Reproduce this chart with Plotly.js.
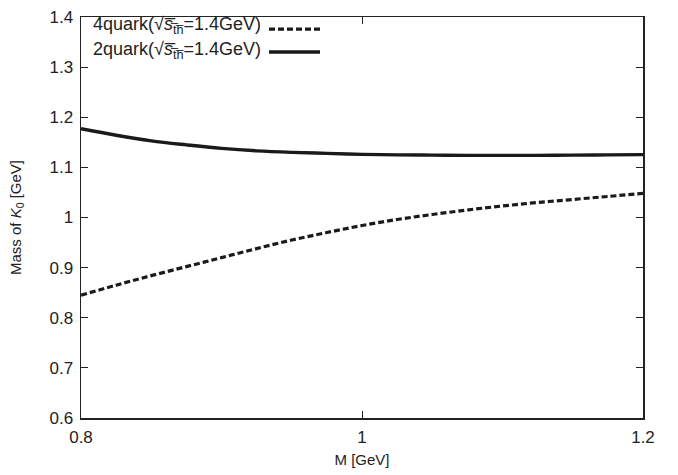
<!DOCTYPE html>
<html>
<head>
<meta charset="utf-8">
<script src="https://cdn.plot.ly/plotly-3.0.1.min.js"></script>
<style>html,body{margin:0;padding:0;background:#fff;}#chart{width:678px;height:475px;}</style>
</head>
<body>
<div id="chart"></div>
<script>
// Data
var massM = [0.8, 0.825, 0.85, 0.875, 0.9, 0.925, 0.95, 0.975, 1.0, 1.025, 1.05, 1.075, 1.1, 1.125, 1.15, 1.175, 1.2];
var fourQuark = [0.845, 0.865, 0.884, 0.902, 0.920, 0.938, 0.955, 0.970, 0.984, 0.996, 1.006, 1.015, 1.023, 1.030, 1.036, 1.042, 1.048];
var twoQuark = [1.177, 1.164, 1.153, 1.145, 1.138, 1.133, 1.130, 1.128, 1.126, 1.125, 1.1245, 1.124, 1.124, 1.124, 1.1245, 1.125, 1.1255];
var legendLabels = ["4quark(√<i>s̅</i><sub>t̅h̅</sub>=1.4GeV)", "2quark(√<i>s̅</i><sub>t̅h̅</sub>=1.4GeV)"];
var xTicks = [0.8, 1, 1.2];
var xTickText = ["0.8", "1", "1.2"];
var yTicks = [0.6, 0.7, 0.8, 0.9, 1.0, 1.1, 1.2, 1.3, 1.4];
var yTickText = ["0.6", "0.7", "0.8", "0.9", "1", "1.1", "1.2", "1.3", "1.4"];

var font = "Liberation Sans, Arial, sans-serif";
var traces = [
  {x: massM, y: fourQuark, mode: "lines", line: {color: "#1a1a1a", width: 3.2, dash: "6px,3px", shape: "spline"}, showlegend: false},
  {x: massM, y: twoQuark, mode: "lines", line: {color: "#1a1a1a", width: 3.4, shape: "spline"}, showlegend: false}
];
var layout = {
  width: 678, height: 475,
  margin: {l: 81, r: 35, t: 17, b: 57},
  paper_bgcolor: "#fff", plot_bgcolor: "#fff",
  font: {family: font, size: 17, color: "#222"},
  xaxis: {range: [0.8, 1.2], tickvals: xTicks, ticktext: xTickText, ticks: "inside", ticklen: 7, tickwidth: 1, tickcolor: "#222",
    showline: true, linecolor: "#222", linewidth: 1.5, mirror: "ticks", showgrid: false, zeroline: false, ticklabelstandoff: 3,
    tickfont: {size: 17, family: font}, title: {text: "M [GeV]", font: {size: 15, family: font}, standoff: 8}},
  yaxis: {range: [0.6, 1.4], tickvals: yTicks, ticktext: yTickText, ticks: "inside", ticklen: 7, tickwidth: 1, tickcolor: "#222",
    showline: true, linecolor: "#222", linewidth: 1.5, mirror: "ticks", showgrid: false, zeroline: false, ticklabelstandoff: 3,
    tickfont: {size: 17, family: font}, title: {text: "Mass of <i>K</i><sub>0</sub> [GeV]", font: {size: 15, family: font}, standoff: 24}},
  annotations: [
    {xref: "paper", yref: "paper", x: 0.0178, y: 0.9776, xanchor: "left", yanchor: "middle", text: legendLabels[0], showarrow: false, font: {size: 18, family: font, color: "#222"}},
    {xref: "paper", yref: "paper", x: 0.0178, y: 0.9177, xanchor: "left", yanchor: "middle", text: legendLabels[1], showarrow: false, font: {size: 18, family: font, color: "#222"}}
  ],
  shapes: [
    {type: "line", xref: "paper", yref: "paper", x0: 0.3345, x1: 0.4253, y0: 0.970, y1: 0.970, line: {color: "#1a1a1a", width: 3.2, dash: "6px,3px"}},
    {type: "line", xref: "paper", yref: "paper", x0: 0.3345, x1: 0.4253, y0: 0.9127, y1: 0.9127, line: {color: "#1a1a1a", width: 3.4}}
  ]
};
Plotly.newPlot("chart", traces, layout, {displayModeBar: false, staticPlot: true});
</script>
</body>
</html>
